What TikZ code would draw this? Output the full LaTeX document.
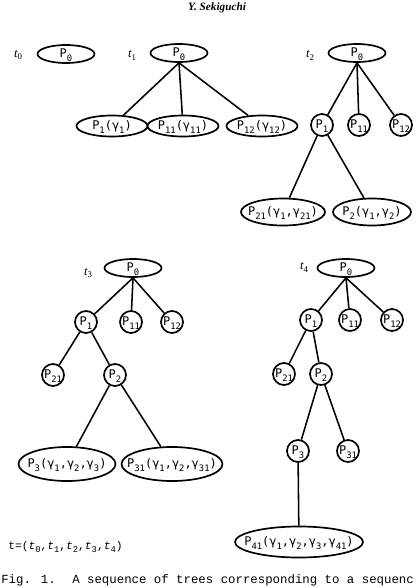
\documentclass[tikz,border=0pt]{standalone}
\usepackage{fontspec}
\setmainfont{Liberation Serif}
\newfontfamily\plab{DejaVu Sans Mono}
\newfontfamily\typew{Liberation Mono}
\usetikzlibrary{shapes.geometric}
\newcommand{\dn}[1]{\raisebox{-0.5ex}{\upshape\fontsize{6.3}{7}\selectfont #1}}
\newcommand{\ectr}[1]{\smash{\makebox[0pt]{\raisebox{-0.32em}{#1}}}}

\begin{document}
\begin{tikzpicture}[x=0.025cm, y=-0.025cm,
      edge/.style={line width=1.1pt},
      el/.style={draw, ellipse, line width=1.2pt, inner sep=0pt, font=\plab\fontsize{8.5}{9}\selectfont},
      nd/.style={draw, circle, line width=1.2pt, inner sep=0pt, minimum size=0.55cm, font=\plab\fontsize{8.5}{9}\selectfont},
      tl/.style={inner sep=0pt, font=\itshape\fontsize{9}{10}\selectfont},
      txt/.style={inner sep=0pt, anchor=west}]
      \useasboundingbox (0,0) rectangle (418,588);
      \node[inner sep=0pt, font=\bfseries\itshape\fontsize{8}{9}\selectfont] (hdr) at (217,8) {Y. Sekiguchi};

      \begin{scope}
        \node[tl] (l0) at (18,55) {t\dn{0}};
        \node[el, minimum width=1.425cm, minimum height=0.45cm] (a0) at (66,54) {\ectr{P\dn{0}}};
      \end{scope}

      \begin{scope}
        \node[tl] (l1) at (132,55) {t\dn{1}};
        \node[el, minimum width=1.425cm, minimum height=0.45cm] (b0) at (179,53) {\ectr{P\dn{0}}};
        \node[el, minimum width=1.775cm, minimum height=0.525cm] (b1) at (112,126) {\ectr{P\dn{1}(γ\dn{1})}};
        \node[el, minimum width=1.775cm, minimum height=0.525cm] (b11) at (183,126) {\ectr{P\dn{11}(γ\dn{11})}};
        \node[el, minimum width=1.775cm, minimum height=0.525cm] (b12) at (262,126) {\ectr{P\dn{12}(γ\dn{12})}};
        \draw[edge] (b0.south) -- (b1);
        \draw[edge] (b0.south) -- (b11);
        \draw[edge] (b0.south) -- (b12);
      \end{scope}

      \begin{scope}
        \node[tl] (l2) at (310,55) {t\dn{2}};
        \node[el, minimum width=1.425cm, minimum height=0.45cm] (c0) at (357,53) {\ectr{P\dn{0}}};
        \node[nd] (c1) at (322,125) {\ectr{P\dn{1}}};
        \node[nd] (c11) at (359,125) {\ectr{P\dn{11}}};
        \node[nd] (c12) at (401,125) {\ectr{P\dn{12}}};
        \node[el, minimum width=2.1cm, minimum height=0.675cm] (c21) at (283,212) {\ectr{P\dn{21}(γ\dn{1},γ\dn{21})}};
        \node[el, minimum width=1.95cm, minimum height=0.675cm] (c2) at (372,212) {\ectr{P\dn{2}(γ\dn{1},γ\dn{2})}};
        \draw[edge] (c0.south) -- (c1);
        \draw[edge] (c0.south) -- (c11);
        \draw[edge] (c0.south) -- (c12);
        \draw[edge] (c1) -- (c21);
        \draw[edge] (c1) -- (c2);
      \end{scope}

      \begin{scope}
        \node[tl] (l3) at (88,273) {t\dn{3}};
        \node[el, minimum width=1.425cm, minimum height=0.45cm] (d0) at (133,268) {\ectr{P\dn{0}}};
        \node[nd] (d1) at (86,322) {\ectr{P\dn{1}}};
        \node[nd] (d11) at (131,322) {\ectr{P\dn{11}}};
        \node[nd] (d12) at (172,322) {\ectr{P\dn{12}}};
        \node[nd] (d21) at (53,375) {\ectr{P\dn{21}}};
        \node[nd] (d2) at (115,375) {\ectr{P\dn{2}}};
        \node[el, minimum width=2.425cm, minimum height=0.85cm] (d3) at (67,464) {\ectr{P\dn{3}(γ\dn{1},γ\dn{2},γ\dn{3})}};
        \node[el, minimum width=2.525cm, minimum height=0.85cm] (d31) at (172,464) {\ectr{P\dn{31}(γ\dn{1},γ\dn{2},γ\dn{31})}};
        \draw[edge] (d0.south) -- (d1);
        \draw[edge] (d0.south) -- (d11);
        \draw[edge] (d0.south) -- (d12);
        \draw[edge] (d1) -- (d21);
        \draw[edge] (d1) -- (d2);
        \draw[edge] (d2) -- (d3);
        \draw[edge] (d2) -- (d31);
      \end{scope}

      \begin{scope}
        \node[tl] (l4) at (304,267) {t\dn{4}};
        \node[el, minimum width=1.425cm, minimum height=0.45cm] (e0) at (346,268) {\ectr{P\dn{0}}};
        \node[nd] (e1) at (311,320) {\ectr{P\dn{1}}};
        \node[nd] (e11) at (350,320) {\ectr{P\dn{11}}};
        \node[nd] (e12) at (392,320) {\ectr{P\dn{12}}};
        \node[nd] (e21) at (284,374) {\ectr{P\dn{21}}};
        \node[nd] (e2) at (321,374) {\ectr{P\dn{2}}};
        \node[nd] (e3) at (298,451) {\ectr{P\dn{3}}};
        \node[nd] (e31) at (348,451) {\ectr{P\dn{31}}};
        \node[el, minimum width=3.2cm, minimum height=0.775cm] (e41) at (299,542) {\ectr{P\dn{41}(γ\dn{1},γ\dn{2},γ\dn{3},γ\dn{41})}};
        \draw[edge] (e0.south) -- (e1);
        \draw[edge] (e0.south) -- (e11);
        \draw[edge] (e0.south) -- (e12);
        \draw[edge] (e1) -- (e21);
        \draw[edge] (e1) -- (e2);
        \draw[edge] (e2) -- (e3);
        \draw[edge] (e2) -- (e31);
        \draw[edge] (e3) -- (e41);
      \end{scope}

      \node[txt, font=\typew\fontsize{8}{9}\selectfont] (tseq) at (8,547) {t=({\itshape t}\dn{0},{\itshape t}\dn{1},{\itshape t}\dn{2},{\itshape t}\dn{3},{\itshape t}\dn{4})};
      \node[txt, font=\typew\fontsize{8.8}{10}\selectfont] (figno) at (1,580) {Fig. 1.};
      \node[txt, font=\typew\fontsize{8.8}{10}\selectfont] (capt) at (72,580) {A sequence of trees corresponding to a sequenc};
    \end{tikzpicture}
\end{document}
